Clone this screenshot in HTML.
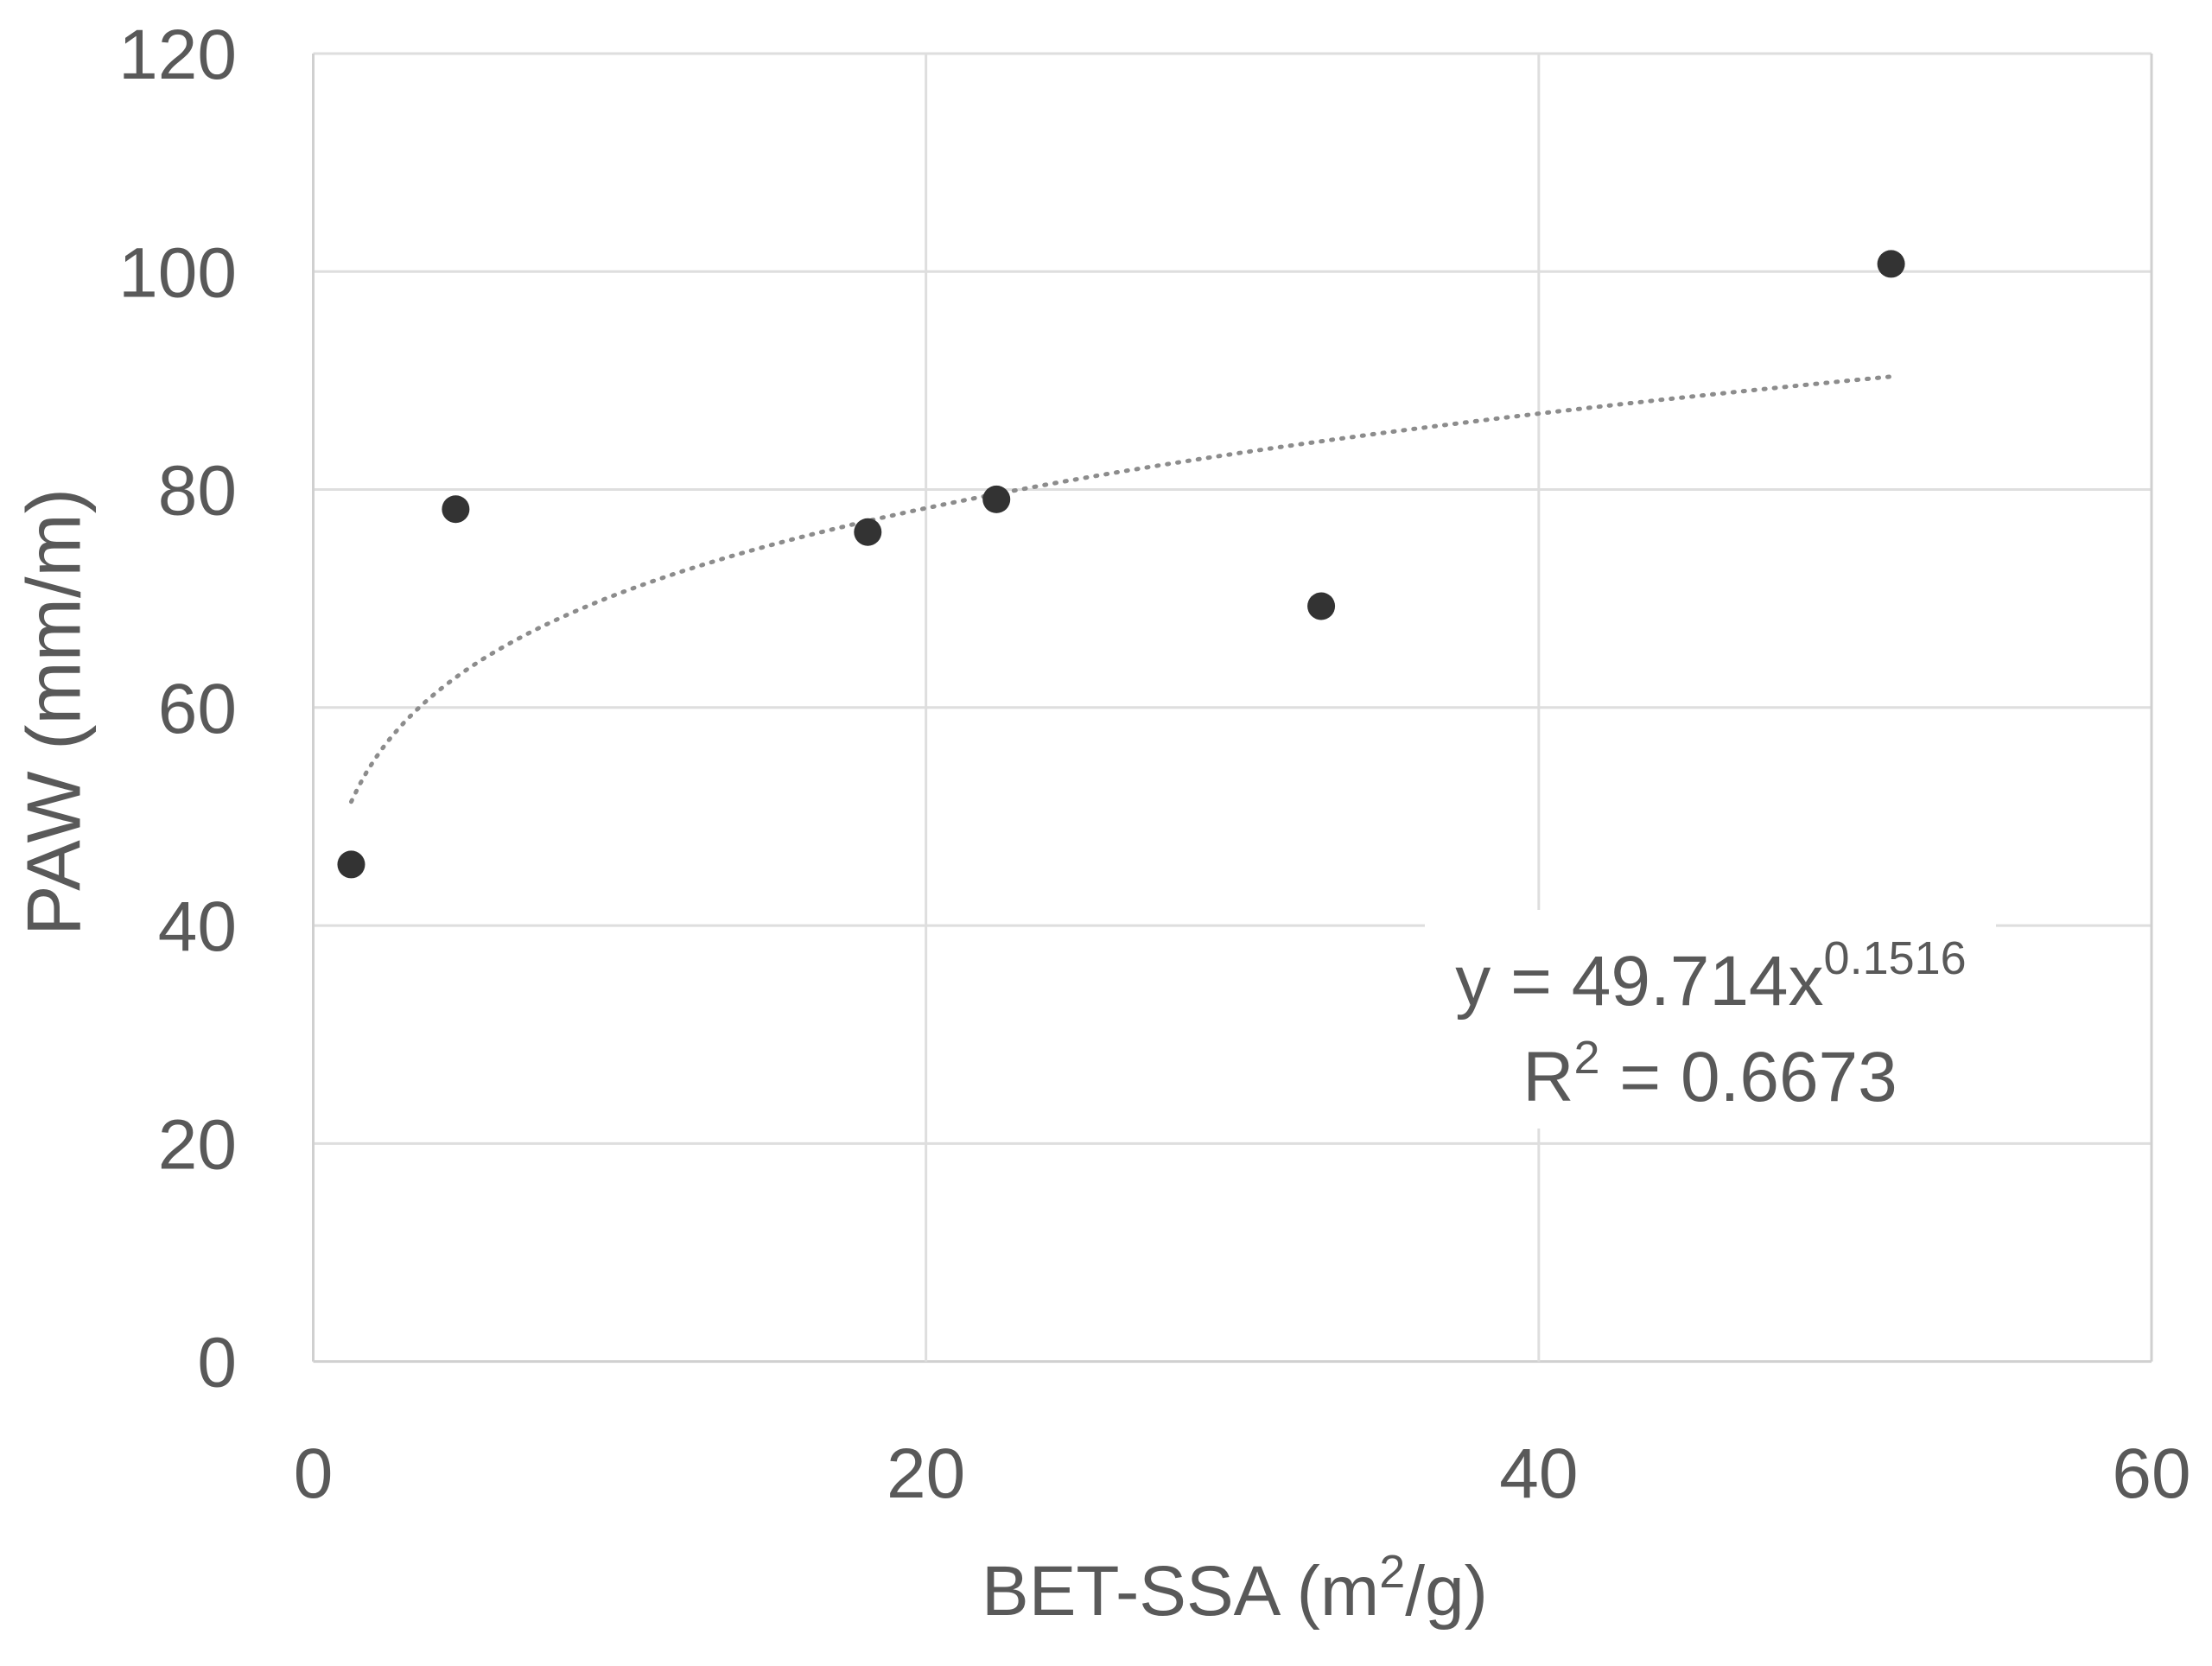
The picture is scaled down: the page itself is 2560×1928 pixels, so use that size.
<!DOCTYPE html>
<html><head><meta charset="utf-8"><style>
html,body{margin:0;padding:0;background:#fff;}
svg{display:block;font-family:"Liberation Sans",sans-serif;}
</style></head><body>
<svg id="chart" width="2560" height="1928" viewBox="0 0 2560 1928" xmlns="http://www.w3.org/2000/svg">
<g id="grid"></g>
<g id="axes"></g>
<g id="trend"></g>
<g id="pts"></g>
<g>
<rect x="1649" y="1053" width="661" height="253" fill="#fff"/>
<text x="1980" y="1163" font-size="82" fill="#595959" text-anchor="middle">y = 49.714x<tspan font-size="54" dy="-36">0.1516</tspan></text>
<text x="1979" y="1274" font-size="82" fill="#595959" text-anchor="middle">R<tspan font-size="54" dy="-32">2</tspan><tspan dy="32"> = 0.6673</tspan></text>
</g>
<text x="69" y="824" font-size="88" fill="#595959" text-anchor="middle" transform="rotate(-90 69 824)" dominant-baseline="middle">PAW (mm/m)</text>
<text x="1429" y="1869" font-size="82" fill="#595959" text-anchor="middle">BET-SSA (m<tspan font-size="54" dy="-32">2</tspan><tspan dy="32">/g)</tspan></text>
</svg>
<script>
const xTicks=[0,20,40,60];
const yTicks=[0,20,40,60,80,100,120];
const xVals=[1.24,4.65,18.1,22.3,32.9,51.5];
const yVals=[45.6,78.2,76.1,79.1,69.3,100.7];
const trendA=49.714, trendB=0.1516;
const L=362.5,R=2490,T=62,B=1575.6;
const sx=v=>L+(v-0)/(60-0)*(R-L);
const sy=v=>B-(v-0)/(120-0)*(B-T);
const NS="http://www.w3.org/2000/svg";
function mk(tag,attrs,parent){const e=document.createElementNS(NS,tag);for(const k in attrs)e.setAttribute(k,attrs[k]);parent.appendChild(e);return e;}
const grid=document.getElementById('grid'),axes=document.getElementById('axes');
yTicks.forEach(t=>{
  const l=mk('line',{x1:L,x2:R,y1:sy(t),y2:sy(t),stroke:t===0?'#d0d0d0':'#dedede','stroke-width':3},grid);
  
  
  const tx=mk('text',{x:274,y:sy(t)+29,'font-size':82,fill:'#595959','text-anchor':'end'},axes);
  tx.textContent=t;
  
  
});
xTicks.forEach(t=>{
  const l=mk('line',{x1:sx(t),x2:sx(t),y1:T,y2:B,stroke:(t===0||t===60)?'#d0d0d0':'#dedede','stroke-width':3},grid);
  
  
  const tx=mk('text',{x:sx(t),y:1733,'font-size':82,fill:'#595959','text-anchor':'middle'},axes);
  tx.textContent=t;
  
  
});
const xmin=Math.min(...xVals),xmax=Math.max(...xVals);
let d='';
for(let i=0;i<=200;i++){const x=xmin+(xmax-xmin)*i/200;const y=trendA*Math.pow(x,trendB);d+=(i?'L':'M')+sx(x).toFixed(1)+' '+sy(y).toFixed(1);}
const tp=mk('path',{d:d,fill:'none',stroke:'#8c8c8c','stroke-width':5,'stroke-dasharray':'2 10','stroke-linecap':'round'},document.getElementById('trend'));


const pts=document.getElementById('pts');
xVals.forEach((x,i)=>{
  const c=mk('circle',{cx:sx(x),cy:sy(yVals[i]),r:16,fill:'#333333'},pts);
  
  
});
</script>
</body></html>
